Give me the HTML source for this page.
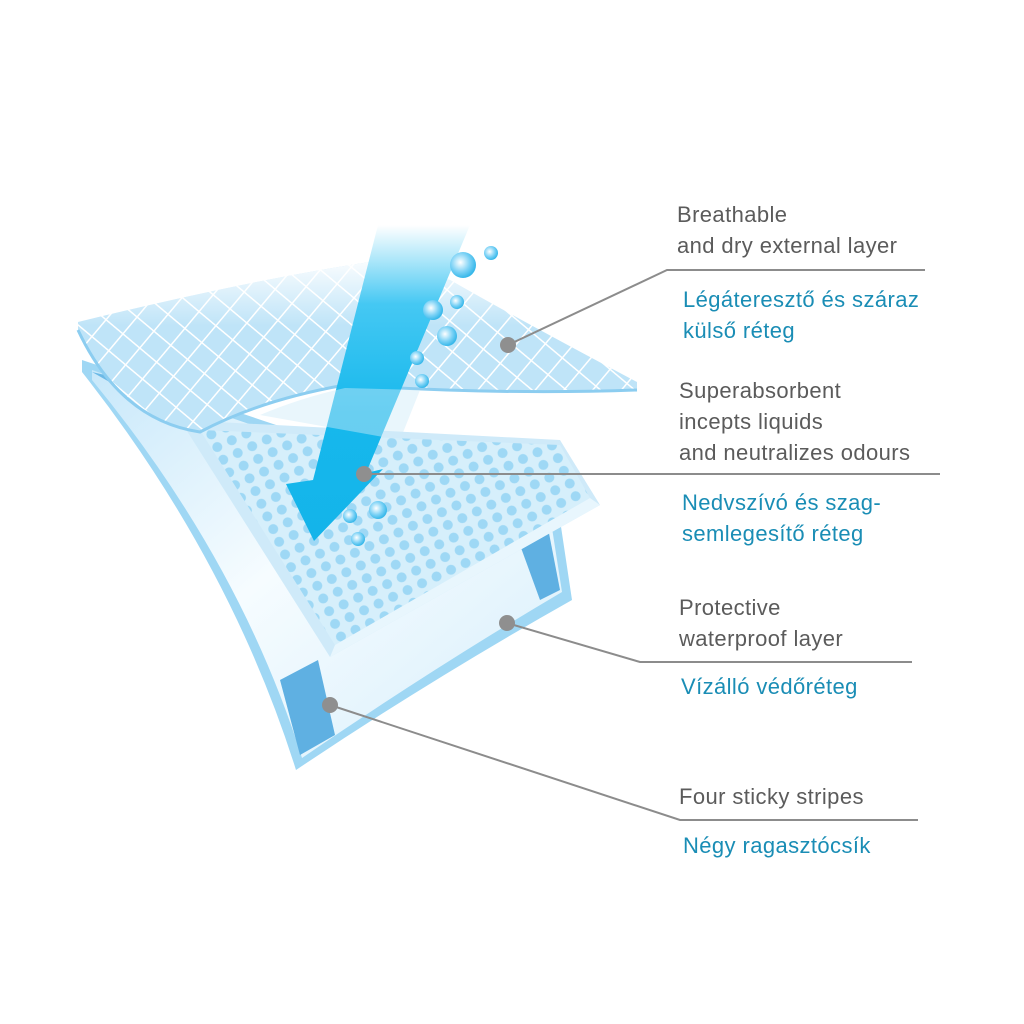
<!DOCTYPE html>
<html><head><meta charset="utf-8"><style>
html,body{margin:0;padding:0;background:#fff;width:1024px;height:1024px;overflow:hidden}
svg text{font-family:"Liberation Sans",sans-serif;font-size:22px;letter-spacing:0.4px}
.g{fill:#5b5b5b}.b{fill:#1a8db5}
</style></head><body>
<svg width="1024" height="1024" viewBox="0 0 1024 1024" xmlns="http://www.w3.org/2000/svg">
<defs>
<linearGradient id="bot" x1="0" y1="0" x2="1" y2="1">
<stop offset="0" stop-color="#c8e8fa"/><stop offset="0.45" stop-color="#f6fcff"/><stop offset="1" stop-color="#d6eefb"/></linearGradient>
<linearGradient id="arr" x1="0" y1="0" x2="0" y2="1">
<stop offset="0" stop-color="#ffffff"/><stop offset="0.25" stop-color="#45c8f3"/><stop offset="0.6" stop-color="#16b8ec"/><stop offset="1" stop-color="#14b4ea"/></linearGradient>
<linearGradient id="fade" x1="0" y1="0" x2="0" y2="1">
<stop offset="0" stop-color="#fff" stop-opacity="0.9"/><stop offset="0.5" stop-color="#fff" stop-opacity="0"/></linearGradient>
<pattern id="grid" width="22" height="22" patternUnits="userSpaceOnUse" patternTransform="rotate(40)">
<rect width="22" height="22" fill="#bfe4f8"/><path d="M0 0H22M0 0V22" stroke="#fff" stroke-width="3"/></pattern>
<pattern id="dots" width="16" height="14" patternUnits="userSpaceOnUse" patternTransform="rotate(-25)">
<rect width="16" height="14" fill="#d6effb"/><circle cx="8" cy="7" r="5" fill="#9ed8f5"/></pattern>
<radialGradient id="bub" cx="0.4" cy="0.4" r="0.6"><stop offset="0" stop-color="#fff"/><stop offset="0.6" stop-color="#7fd3f6"/><stop offset="1" stop-color="#38b8ea"/></radialGradient>
</defs>
<!-- bottom waterproof sheet -->
<path d="M82 360 L560 520 L572 600 Q430 680 296 770 Q230 560 82 372 Z" fill="#9fd7f4"/>
<path d="M92 370 L552 528 L562 592 Q430 670 302 758 Q240 560 92 380 Z" fill="url(#bot)"/>
<path d="M92 372 L135 382 L180 420 L150 405 Z" fill="#6cb9e6"/>
<path d="M280 680 L318 660 L335 735 L300 755 Z" fill="#5fb0e2"/>
<path d="M520 545 L548 528 L560 590 L540 600 Z" fill="#5fb0e2"/>
<!-- absorbent layer -->
<path d="M180 420 L560 440 L600 505 L330 657 Z" fill="#cfeaf9"/>
<path d="M200 430 L560 445 L590 498 L335 645 Z" fill="url(#dots)"/>
<path d="M335 645 L590 498 L600 505 L330 657 Z" fill="#e8f6fd"/>
<!-- top sheet -->
<path d="M78 322 Q250 280 370 262 L450 280 Q520 320 637 382 L637 390 Q500 395 345 385 Q260 400 200 432 Q120 420 78 330 Z" fill="url(#grid)"/>
<path d="M78 322 Q250 280 370 262 L450 280 Q520 320 637 382 L637 390 L78 390 Z" fill="url(#fade)"/>
<path d="M78 330 Q120 420 200 432 Q260 400 345 385 Q500 395 637 390" fill="none" stroke="#8ccdf0" stroke-width="3"/>
<!-- arrow -->
<path d="M378 225 L470 225 L366 473 L383 469 L314 541 L286 484 L313 480 Z" fill="url(#arr)"/>
<path d="M345 388 Q300 398 260 415 L400 440 L420 390 Z" fill="#cfeaf9" opacity="0.45"/>
<!-- bubbles -->
<g fill="url(#bub)">
<circle cx="463" cy="265" r="13"/><circle cx="491" cy="253" r="7"/><circle cx="433" cy="310" r="10"/>
<circle cx="457" cy="302" r="7"/><circle cx="447" cy="336" r="10"/><circle cx="417" cy="358" r="7"/>
<circle cx="422" cy="381" r="7"/><circle cx="378" cy="510" r="9"/><circle cx="350" cy="516" r="7"/><circle cx="358" cy="539" r="7"/>
</g>
<!-- connectors -->
<g stroke="#8c8c8c" stroke-width="2" fill="none">
<path d="M508 345 L667 270 L925 270"/>
<path d="M364 474 L940 474"/>
<path d="M507 623 L640 662 L912 662"/>
<path d="M330 705 L680 820 L918 820"/>
</g>
<g fill="#8f8f8f"><circle cx="508" cy="345" r="8"/><circle cx="364" cy="474" r="8"/><circle cx="507" cy="623" r="8"/><circle cx="330" cy="705" r="8"/></g>
<!-- labels -->
<text class="g" x="677" y="222">Breathable</text>
<text class="g" x="677" y="253">and dry external layer</text>
<text class="b" x="683" y="307">Légáteresztő és száraz</text>
<text class="b" x="683" y="338">külső réteg</text>
<text class="g" x="679" y="398">Superabsorbent</text>
<text class="g" x="679" y="429">incepts liquids</text>
<text class="g" x="679" y="460">and neutralizes odours</text>
<text class="b" x="682" y="510">Nedvszívó és szag-</text>
<text class="b" x="682" y="541">semlegesítő réteg</text>
<text class="g" x="679" y="615">Protective</text>
<text class="g" x="679" y="646">waterproof layer</text>
<text class="b" x="681" y="694">Vízálló védőréteg</text>
<text class="g" x="679" y="804">Four sticky stripes</text>
<text class="b" x="683" y="853">Négy ragasztócsík</text>
</svg>
</body></html>
